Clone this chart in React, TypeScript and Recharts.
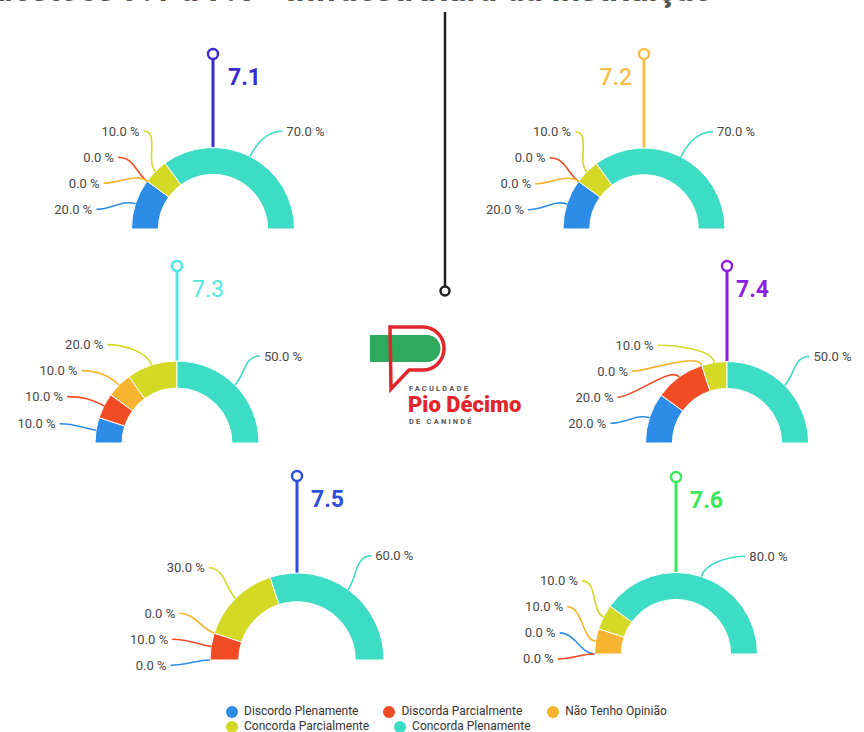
import { Cell, Legend, Pie, PieChart } from 'recharts';

document.body.style.margin = '0';

const categories = [
  'Discordo Plenamente',
  'Discorda Parcialmente',
  'Não Tenho Opinião',
  'Concorda Parcialmente',
  'Concorda Plenamente',
];
const categoryColors = ['#2d8de6', '#f14c24', '#f7b430', '#d4d926', '#3ddcc4'];

const questions = ['7.1', '7.2', '7.3', '7.4', '7.5', '7.6'];
const questionColors = ['#3b2bd0', '#f5bf4c', '#4ee8e2', '#8c1fe0', '#2f4fd8', '#3be85a'];

const q71 = [20, 0, 0, 10, 70];
const q72 = [20, 0, 0, 10, 70];
const q73 = [10, 10, 10, 20, 50];
const q74 = [20, 20, 0, 10, 50];
const q75 = [0, 10, 0, 30, 60];
const q76 = [0, 0, 10, 10, 80];
const questionValues = [q71, q72, q73, q74, q75, q76];

// where each gauge sits on the page
const gauges = [
  { cx: 213, cy: 229, r: 81.5, pinY: 54, numDx: 15, anchor: 'start', weight: 700 },
  { cx: 644, cy: 229, r: 81, pinY: 54, numDx: -12, anchor: 'end', weight: 500 },
  { cx: 177, cy: 443, r: 82, pinY: 266, numDx: 15, anchor: 'start', weight: 400 },
  { cx: 727, cy: 443, r: 81.5, pinY: 266, numDx: 9, anchor: 'start', weight: 700 },
  { cx: 297, cy: 660, r: 87, pinY: 476, numDx: 14, anchor: 'start', weight: 700 },
  { cx: 676, cy: 654, r: 81.5, pinY: 477, numDx: 14, anchor: 'start', weight: 700 },
];

const FONT = 'Roboto, sans-serif';
const RAD = Math.PI / 180;

type Spot = { i: number; mid: number; left: boolean; rise: number; dx: number };

// spreads the left-hand labels apart so they don't overlap
function layoutLabels(values: number[], r: number): Spot[] {
  const total = values.reduce((a, b) => a + b, 0);
  const reach = r * 1.5;
  const ceil = r * 1.2;
  const floor = -r * 0.06;
  const gap = 26;
  let start = 180;
  const spots: Spot[] = values.map((v, i) => {
    const span = (v / total) * 180;
    const mid = start - span / 2;
    start -= span;
    const rise = Math.min(ceil, Math.max(floor, reach * Math.sin(mid * RAD)));
    return { i, mid, left: mid > 90, rise, dx: 0 };
  });

  const left = spots.filter((s) => s.left).sort((a, b) => a.mid - b.mid || a.i - b.i);
  const groups = left.map((s) => ({ items: [s], top: s.rise }));
  const place = (g: { items: Spot[]; top: number }) => {
    const n = g.items.length;
    const mean = g.items.reduce((a, s) => a + s.rise, 0) / n;
    let hi = mean + ((n - 1) * gap) / 2;
    if (hi > ceil) hi = ceil;
    if (hi - (n - 1) * gap < floor) hi = floor + (n - 1) * gap;
    g.top = hi;
  };
  let merged = true;
  while (merged) {
    merged = false;
    for (let k = 0; k < groups.length - 1; k++) {
      const a = groups[k];
      const b = groups[k + 1];
      const aLow = a.top - (a.items.length - 1) * gap;
      if (aLow - b.top < gap) {
        a.items.push(...b.items);
        place(a);
        groups.splice(k + 1, 1);
        merged = true;
        break;
      }
    }
  }
  groups.forEach((g) => g.items.forEach((s, j) => (s.rise = g.top - j * gap)));
  spots.forEach((s) => (s.dx = Math.sqrt(Math.max(0, reach * reach - s.rise * s.rise))));
  return spots;
}

function makeLabel(values: number[], r: number) {
  const spots = layoutLabels(values, r);
  return (props: any) => {
    const { cx, cy, midAngle, outerRadius, index, value } = props;
    const s = spots[index];
    const cos = Math.cos(midAngle * RAD);
    const sin = Math.sin(midAngle * RAD);
    const ax = cx + outerRadius * cos;
    const ay = cy - outerRadius * sin;
    const bx = cx + (outerRadius + 14) * cos;
    const by = cy - (outerRadius + 14) * sin;
    const tx = s.left ? cx - s.dx : cx + s.dx;
    const ty = cy - s.rise;
    const lx = s.left ? tx + 4 : tx - 4;
    const hx = s.left ? lx + 16 : lx - 16;
    return (
      <g key={`lbl-${index}`}>
        <path
          d={`M${lx},${ty} C${hx},${ty} ${bx},${by} ${ax},${ay}`}
          stroke={categoryColors[index]}
          strokeWidth={1.6}
          fill="none"
        />
        <text
          x={tx}
          y={ty}
          textAnchor={s.left ? 'end' : 'start'}
          dominantBaseline="central"
          fontSize={13}
          fontFamily={FONT}
          fill="#484848"
        >
          {`${Number(value).toFixed(1)} %`}
        </text>
      </g>
    );
  };
}

function LegendBox() {
  return (
    <div
      style={{
        display: 'flex',
        flexWrap: 'wrap',
        width: 520,
        fontFamily: FONT,
        fontSize: 12,
        color: '#333',
        lineHeight: '15px',
      }}
    >
      {categories.map((c, i) => (
        <div key={c} style={{ display: 'flex', alignItems: 'center', marginRight: 25 }}>
          <span
            style={{
              width: 12,
              height: 12,
              borderRadius: 6,
              background: categoryColors[i],
              marginRight: 6,
              display: 'inline-block',
            }}
          />
          <span>{c}</span>
        </div>
      ))}
    </div>
  );
}

export default function App() {
  return (
    <div style={{ width: 864, height: 732, background: '#fff', position: 'relative', overflow: 'hidden' }}>
      <PieChart width={864} height={732} margin={{ top: 0, right: 0, bottom: 0, left: 0 }}>
        <text x={-30} y={1} fontSize={34} fontWeight={700} fontFamily={FONT} fill="#555">
          Questões 7.1 a 7.6 - Infraestrutura da Instituição
        </text>

        {/* centre connector */}
        <line x1={445} y1={12} x2={445} y2={286} stroke="#222" strokeWidth={2.5} />
        <circle cx={445} cy={291} r={4.5} stroke="#222" strokeWidth={2.5} fill="#fff" />

        {/* logo */}
        <g>
          <path d="M370,335 H427 A13.5,13.5 0 0 1 427,362 H370 Z" fill="#2daa5e" />
          <path
            d="M390,327 H423 A21,21.5 0 0 1 423,370 H409 L391,389 Z"
            stroke="#e0262b"
            strokeWidth={3.5}
            fill="none"
          />
          <text x={409} y={388} fontSize={7.5} fontWeight={700} letterSpacing={2.2} fontFamily={FONT} fill="#555" dominantBaseline="central">
            FACULDADE
          </text>
          <text x={408} y={412} fontSize={22} fontWeight={900} fontFamily={FONT} fill="#e1252b">
            Pio Décimo
          </text>
          <text x={409} y={421} fontSize={7.5} fontWeight={700} letterSpacing={2.2} fontFamily={FONT} fill="#555" dominantBaseline="central">
            DE CANINDÉ
          </text>
        </g>

        {gauges.map((g, k) => (
          <g key={`pin-${k}`}>
            <line
              x1={g.cx}
              y1={g.pinY + 5}
              x2={g.cx}
              y2={g.cy - g.r}
              stroke={questionColors[k]}
              strokeWidth={3}
            />
            <circle cx={g.cx} cy={g.pinY} r={5} stroke={questionColors[k]} strokeWidth={2.5} fill="#fff" />
            <text
              x={g.cx + g.numDx}
              y={g.pinY + 31}
              textAnchor={g.anchor as any}
              fontSize={23}
              fontWeight={g.weight}
              fontFamily={FONT}
              fill={questionColors[k]}
            >
              {questions[k]}
            </text>
          </g>
        ))}

        {gauges.map((g, k) => (
          <Pie
            key={questions[k]}
            data={questionValues[k].map((v, i) => ({ name: categories[i], value: v }))}
            dataKey="value"
            nameKey="name"
            cx={g.cx}
            cy={g.cy}
            startAngle={180}
            endAngle={0}
            innerRadius={g.r * 0.67}
            outerRadius={g.r}
            isAnimationActive={false}
            labelLine={false}
            label={makeLabel(questionValues[k], g.r)}
          >
            {questionValues[k].map((_, i) => (
              <Cell key={i} fill={categoryColors[i]} />
            ))}
          </Pie>
        ))}

        <Legend
          content={() => <LegendBox />}
          wrapperStyle={{ left: 226, top: 704, bottom: 'auto', width: 520 }}
        />
      </PieChart>
    </div>
  );
}
